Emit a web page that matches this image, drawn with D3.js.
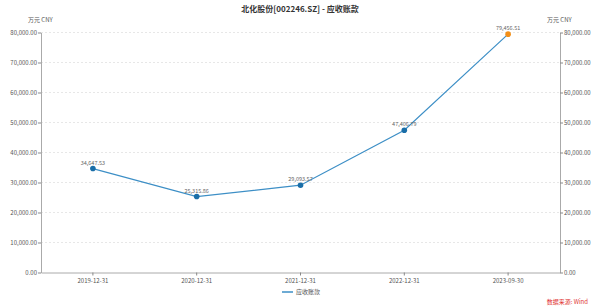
<!DOCTYPE html>
<html>
<head>
<meta charset="utf-8">
<script src="https://cdn.jsdelivr.net/npm/d3@7"></script>
<style>
  body { margin: 0; background: #fff; font-family: "Noto Sans CJK SC", "Noto Sans", sans-serif; }
  svg text { font-family: "Noto Sans CJK SC", "Noto Sans", sans-serif; }
</style>
</head>
<body>
<div id="chart"></div>
<script>
const dates = ['2019-12-31', '2020-12-31', '2021-12-31', '2022-12-31', '2023-09-30'];
const values = [34647.53, 25315.86, 29093.57, 47406.79, 79456.51];
const yTicks = [0, 10000, 20000, 30000, 40000, 50000, 60000, 70000, 80000];

const width = 600, height = 308;
const plot = { left: 41, right: 560, top: 32.5, bottom: 272.5 };

const svg = d3.select('#chart').append('svg')
  .attr('width', width)
  .attr('height', height);

const x = d3.scaleBand().domain(dates).range([plot.left, plot.right]);
const y = d3.scaleLinear().domain([0, 80000]).range([plot.bottom, plot.top]);
const fmt = d3.format(',.2f');

// gridlines
svg.append('g')
  .selectAll('line')
  .data(yTicks.filter(d => d > 0))
  .join('line')
  .attr('x1', plot.left).attr('x2', plot.right)
  .attr('y1', d => y(d)).attr('y2', d => y(d))
  .attr('stroke', '#ddd')
  .attr('stroke-dasharray', '2,2')
  .attr('stroke-width', 0.7);

// axes
const styleAxis = g => {
  g.select('.domain').attr('stroke', '#aaa');
  g.selectAll('.tick line').attr('stroke', '#888');
  g.selectAll('.tick text').attr('fill', '#555').style('font-size', '6px');
};

svg.append('g')
  .attr('transform', `translate(${plot.left},0)`)
  .call(d3.axisLeft(y).tickValues(yTicks).tickFormat(fmt).tickSize(3).tickPadding(1).tickSizeOuter(0))
  .call(styleAxis);

svg.append('g')
  .attr('transform', `translate(${plot.right},0)`)
  .call(d3.axisRight(y).tickValues(yTicks).tickFormat(fmt).tickSize(3).tickPadding(1).tickSizeOuter(0))
  .call(styleAxis);

svg.append('g')
  .attr('transform', `translate(0,${plot.bottom})`)
  .call(d3.axisBottom(x).tickSize(3).tickPadding(3).tickSizeOuter(0))
  .call(styleAxis);

// line
const cx = d => x(d) + x.bandwidth() / 2;
const line = d3.line().x((d, i) => cx(dates[i])).y(d => y(d));

svg.append('path')
  .datum(values)
  .attr('fill', 'none')
  .attr('stroke', '#3d8fc6')
  .attr('stroke-width', 1.2)
  .attr('d', line);

svg.append('g')
  .selectAll('circle')
  .data(values)
  .join('circle')
  .attr('cx', (d, i) => cx(dates[i]))
  .attr('cy', d => y(d))
  .attr('r', 2.8)
  .attr('fill', (d, i) => i === values.length - 1 ? '#f39019' : '#1a6ea8');

svg.append('g')
  .selectAll('text')
  .data(values)
  .join('text')
  .attr('x', (d, i) => cx(dates[i]))
  .attr('y', d => y(d) - 4)
  .attr('text-anchor', 'middle')
  .attr('fill', '#666')
  .style('font-size', '5.5px')
  .text(d => fmt(d).replace(/,/g, ','));

// title and units
svg.append('text')
  .attr('x', 300).attr('y', 12)
  .attr('text-anchor', 'middle')
  .attr('fill', '#333')
  .style('font-size', '8px')
  .style('font-weight', 'bold')
  .text('北化股份[002246.SZ] - 应收账款');

svg.append('text')
  .attr('x', 28).attr('y', 22)
  .attr('fill', '#555')
  .style('font-size', '6px')
  .text('万元  CNY');

svg.append('text')
  .attr('x', 547).attr('y', 22)
  .attr('fill', '#555')
  .style('font-size', '6px')
  .text('万元  CNY');

// legend
svg.append('line')
  .attr('x1', 282).attr('x2', 293)
  .attr('y1', 292).attr('y2', 292)
  .attr('stroke', '#3d8fc6')
  .attr('stroke-width', 1.5);

svg.append('text')
  .attr('x', 296).attr('y', 294)
  .attr('fill', '#555')
  .style('font-size', '6px')
  .text('应收账款');

svg.append('text')
  .attr('x', 588).attr('y', 304)
  .attr('text-anchor', 'end')
  .attr('fill', '#e03030')
  .style('font-size', '6px')
  .text('数据来源: Wind');
</script>
</body>
</html>
